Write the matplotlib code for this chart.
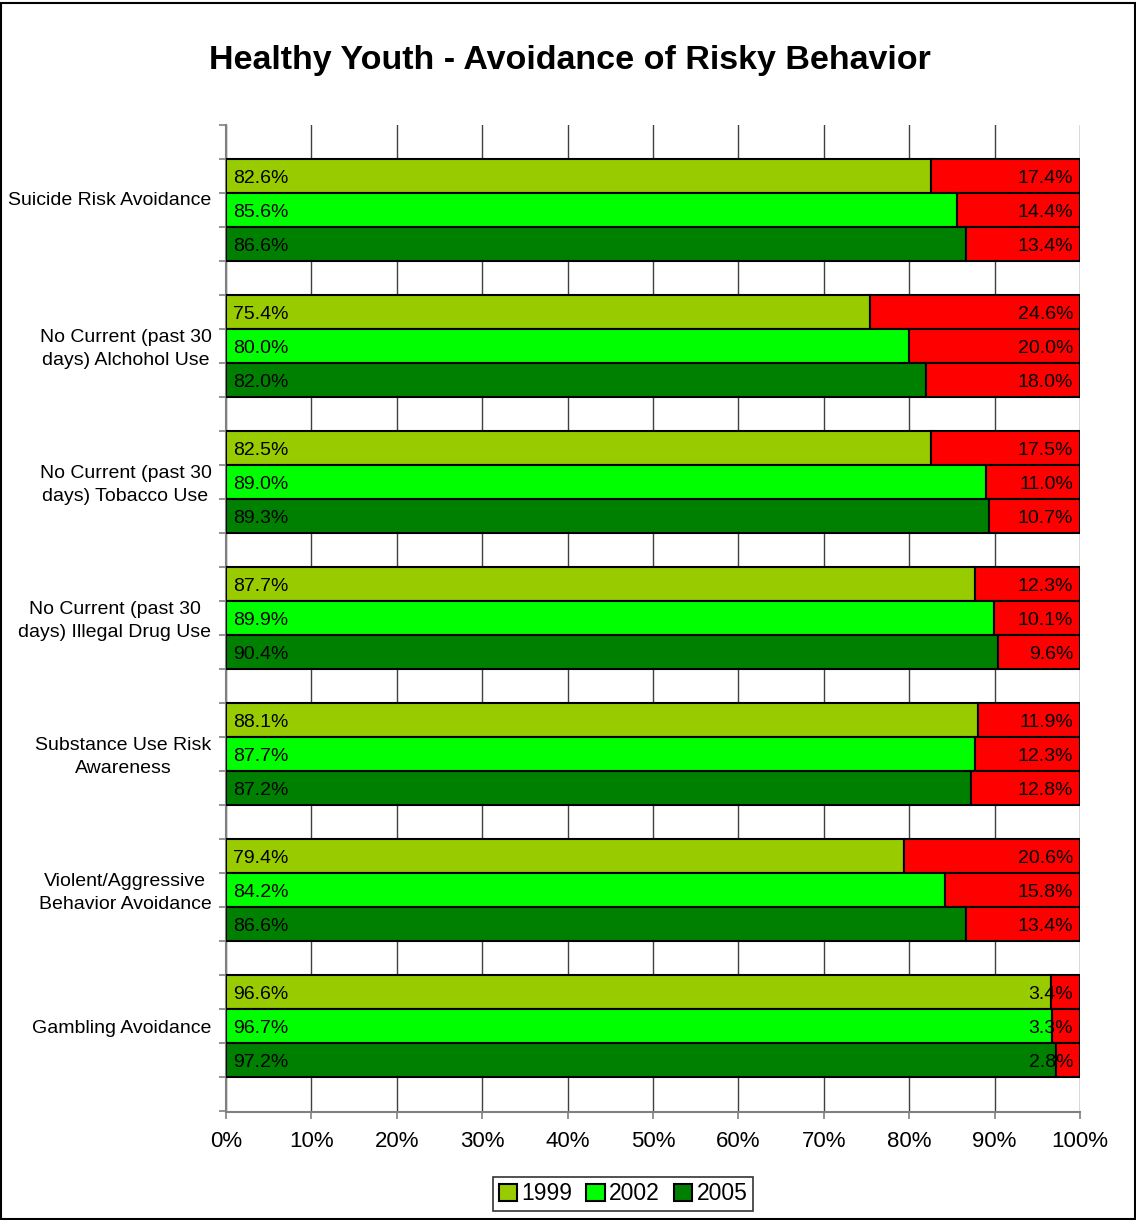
import matplotlib
matplotlib.use('Agg')
import matplotlib.pyplot as plt
from matplotlib.patches import Rectangle
import numpy as np

plt.rcParams['font.family'] = ['Liberation Sans', 'DejaVu Sans']

categories = ['Suicide Risk Avoidance',
              'No Current (past 30\ndays) Alchohol Use',
              'No Current (past 30\ndays) Tobacco Use',
              'No Current (past 30\ndays) Illegal Drug Use',
              'Substance Use Risk\nAwareness',
              'Violent/Aggressive\nBehavior Avoidance',
              'Gambling Avoidance']
years = ['1999', '2002', '2005']

# share avoiding the risk, by year (rows follow categories)
yes_1999 = [82.6, 75.4, 82.5, 87.7, 88.1, 79.4, 96.6]
yes_2002 = [85.6, 80.0, 89.0, 89.9, 87.7, 84.2, 96.7]
yes_2005 = [86.6, 82.0, 89.3, 90.4, 87.2, 86.6, 97.2]
# remaining share (red part)
no_1999 = [17.4, 24.6, 17.5, 12.3, 11.9, 20.6, 3.4]
no_2002 = [14.4, 20.0, 11.0, 10.1, 12.3, 15.8, 3.3]
no_2005 = [13.4, 18.0, 10.7, 9.6, 12.8, 13.4, 2.8]

year_colors = ['#99CC00', '#00FF00', '#008000']
red = '#FF0000'

fig = plt.figure(figsize=(11.36, 12.2), dpi=100)
ax = fig.add_axes([226/1136, 1 - 1112/1220, (1080-226)/1136, (1112-125)/1220])

yes_all = [yes_1999, yes_2002, yes_2005]
no_all = [no_1999, no_2002, no_2005]
handles = []
for j in range(3):
    ypos = np.arange(len(categories)) * 4 + 1 + j + 0.5
    yes = np.array(yes_all[j])
    no = np.array(no_all[j])
    h = ax.barh(ypos, yes / 100, height=1, color=year_colors[j],
                edgecolor='black', linewidth=1.5, zorder=3)
    ax.barh(ypos, no / 100, left=yes / 100, height=1, color=red,
            edgecolor='black', linewidth=1.5, zorder=3)
    handles.append(h)
    for y, v, n in zip(ypos, yes, no):
        ax.annotate('%.1f%%' % v, (0, y), xytext=(5, -2), textcoords='offset points',
                    ha='left', va='center', fontsize=14, zorder=5)
        ax.annotate('%.1f%%' % n, (1, y), xytext=(-5, -2), textcoords='offset points',
                    ha='right', va='center', fontsize=14, zorder=5)

ax.set_xlim(0, 1)
ax.set_ylim(29.03, 0)
ax.set_xticks(np.arange(0, 1.01, 0.1))
ax.set_xticklabels(['%d%%' % (t * 10) for t in range(11)], fontsize=16)
ax.set_yticks(np.arange(0, 30))
ax.set_yticklabels([])
ax.tick_params(axis='both', direction='out', length=5, color='#808080', width=1.2)
ax.tick_params(axis='x', pad=9)
ax.xaxis.grid(True, color='#404040', linewidth=1, zorder=0)
ax.set_axisbelow(True)
for s in ['top', 'right']:
    ax.spines[s].set_visible(False)
for s in ['left', 'bottom']:
    ax.spines[s].set_color('#808080')
    ax.spines[s].set_linewidth(1.5)

for k, cat in enumerate(categories):
    # first label sits a little high in the original
    dy = 7 if k == 0 else -2
    ax.annotate(cat, (-0.017, 4 * k + 2.5), xycoords=ax.get_yaxis_transform(),
                xytext=(0, dy), textcoords='offset points',
                ha='right', va='center', multialignment='center', fontsize=14,
                linespacing=1.45)

fig.text(570/1136, 1 - 61/1220, 'Healthy Youth - Avoidance of Risky Behavior',
         ha='center', va='center', fontsize=24.5, fontweight='bold')

leg = fig.legend(handles, years, loc='center', bbox_to_anchor=(623/1136, 1 - 1194/1220),
                 ncol=3, fontsize=16.5, frameon=True, fancybox=False, edgecolor='black',
                 handlelength=0.8, handleheight=0.8, handletextpad=0.2, columnspacing=0.6,
                 borderpad=0.25, borderaxespad=0)
leg.get_frame().set_linewidth(1.2)

fig.patches.append(Rectangle((0.001, 0.001), 0.998, 1 - 3/1220 - 0.001, transform=fig.transFigure,
                             fill=False, edgecolor='black', linewidth=1.5))

fig.savefig('out.png', dpi=100)
